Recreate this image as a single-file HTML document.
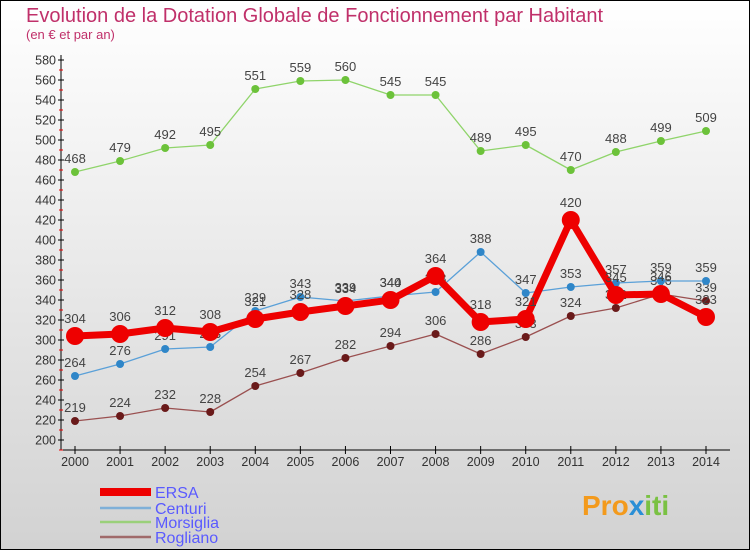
<!DOCTYPE html>
<html><head><meta charset="utf-8"><style>
body{margin:0;}
svg{display:block;font-family:"Liberation Sans","DejaVu Sans",sans-serif;}
</style></head><body>
<svg id="c" width="750" height="550" viewBox="0 0 750 550" xmlns="http://www.w3.org/2000/svg">
<defs><linearGradient id="bg" x1="0" y1="0" x2="0" y2="1"><stop offset="0" stop-color="#ffffff"/><stop offset="1" stop-color="#d2d2d2"/></linearGradient></defs>
<rect x="0.5" y="0.5" width="749" height="549" fill="url(#bg)" stroke="#000"/>
<text x="26" y="22" font-size="20" fill="#c0306a">Evolution de la Dotation Globale de Fonctionnement par Habitant</text>
<text x="26" y="39" font-size="13" fill="#c0306a">(en € et par an)</text>
<g id="axes"></g><g id="series"></g><g id="legend"></g>
<text x="582" y="515" font-size="28" font-weight="bold" fill="#f39a1c">Pro<tspan fill="#2a8fd6">x</tspan><tspan fill="#7ac143">iti</tspan></text>
</svg>
<script>
const years=[2000,2001,2002,2003,2004,2005,2006,2007,2008,2009,2010,2011,2012,2013,2014];
const ersa=[304,306,312,308,321,328,334,340,364,318,321,420,345,346,323];
const centuri=[264,276,291,293,329,343,339,344,348,388,347,353,357,359,359];
const morsiglia=[468,479,492,495,551,559,560,545,545,489,495,470,488,499,509];
const rogliano=[219,224,232,228,254,267,282,294,306,286,303,324,332,346,339];
const yTicks=[200,220,240,260,280,300,320,340,360,380,400,420,440,460,480,500,520,540,560,580];
const NS="http://www.w3.org/2000/svg";
const X=i=>75+i*(706-75)/(years.length-1);
const Y=v=>440-(v-200);
function mk(tag,attrs,parent,txt){const e=document.createElementNS(NS,tag);for(const k in attrs)e.setAttribute(k,attrs[k]);if(txt!==undefined)e.textContent=txt;parent.appendChild(e);return e;}
const ax=document.getElementById('axes');
let a=mk('line',{x1:61,y1:55,x2:61,y2:450,stroke:'#000'},ax);


a=mk('line',{x1:61,y1:450,x2:730,y2:450,stroke:'#000'},ax);


yTicks.forEach(t=>{
 const y=Y(t);
 mk('line',{x1:58,y1:y,x2:64,y2:y,stroke:'#000'},ax);
 mk('line',{x1:59,y1:y+10,x2:63,y2:y+10,stroke:'#e00'},ax);
 const l=mk('text',{x:56,y:y+4.5,'font-size':12.5,'text-anchor':'end',fill:'#333'},ax,t);
 
 
});
years.forEach((yr,i)=>{
 mk('line',{x1:X(i),y1:446,x2:X(i),y2:454,stroke:'#000'},ax);
 const l=mk('text',{x:X(i),y:466,'font-size':12.5,'text-anchor':'middle',fill:'#333'},ax,yr);
 
 
});
const sg=document.getElementById('series');
const series=[
 {name:'morsiglia',data:morsiglia,c:'#8fd46a',pc:'#6cc23a',w:1.3,r:4},
 {name:'rogliano',data:rogliano,c:'#9a5050',pc:'#6a1a1a',w:1.3,r:4},
 {name:'centuri',data:centuri,c:'#5aa0d8',pc:'#2f86c8',w:1.3,r:4},
 {name:'ersa',data:ersa,c:'#ee0000',pc:'#ee0000',w:7,r:9}
];
series.forEach(s=>{
 const g=mk('g',{},sg);
 
 
 const p=mk('polyline',{points:s.data.map((v,i)=>X(i)+','+Y(v)).join(' '),fill:'none',stroke:s.c,'stroke-width':s.w,'stroke-linejoin':'round'},g);
 
 
 s.data.forEach((v,i)=>{
  const c=mk('circle',{cx:X(i),cy:Y(v),r:s.r,fill:s.pc},g);
  
  
  const t=mk('text',{x:X(i),y:Y(v)-(s==series[3]?13:9),'font-size':13,'text-anchor':'middle',fill:'#444'},g,v);
  
  
 });
});
const lg=document.getElementById('legend');
[['ERSA','#ee0000',8,492],['Centuri','#7fb0d8',2.5,508],['Morsiglia','#9ad07a',2.5,522],['Rogliano','#a06a6a',2.5,537]].forEach(e=>{
 const g=mk('g',{},lg);
 
 
 mk('line',{x1:100,y1:e[3],x2:151,y2:e[3],stroke:e[1],'stroke-width':e[2]},g);
 mk('text',{x:155,y:e[3]+6,'font-size':16,fill:'#5a5aff'},g,e[0]);
});
</script>
</body></html>
